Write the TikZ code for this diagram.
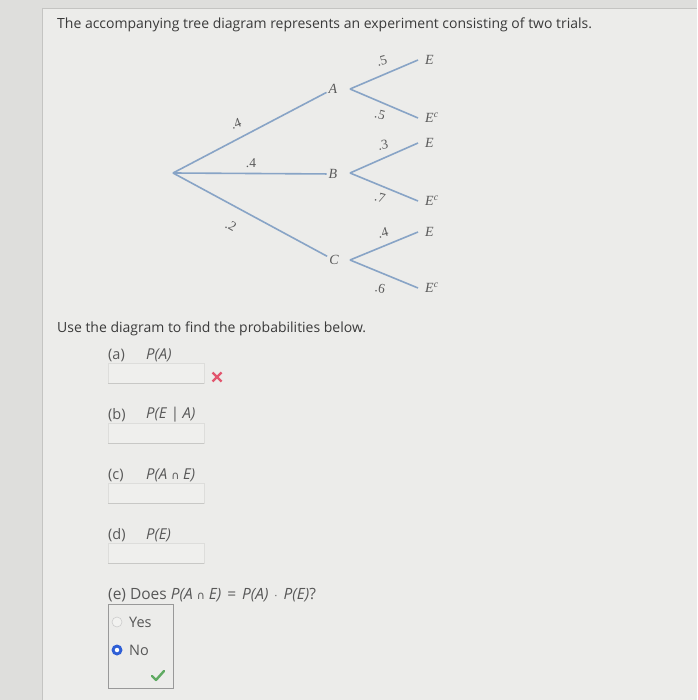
\documentclass[tikz,border=0pt]{standalone}
\usepackage{fontspec}
\usetikzlibrary{calc}
\setmainfont{Open Sans}
\newfontfamily\treefont{Liberation Serif}
\newfontfamily\symfont{DejaVu Sans}
\definecolor{bgc}{HTML}{ECECEA}
\definecolor{stripc}{HTML}{DEDEDC}
\definecolor{edgec}{HTML}{C4C4C2}
\definecolor{branchc}{HTML}{88A4C6}
\definecolor{txtc}{HTML}{3A3A3A}
\definecolor{treetxt}{HTML}{5A5A5A}
\definecolor{boxc}{HTML}{DDDDDB}
\definecolor{boxline}{HTML}{C8C8C6}
\definecolor{crossc}{HTML}{E2566E}
\definecolor{radioblue}{HTML}{2F5FD6}
\definecolor{checkc}{HTML}{5FAA62}
\tikzset{
  branch/.style={draw=branchc, line width=1.6pt},
  lvl/.style={font=\treefont\itshape\fontsize{14}{14}\selectfont, text=treetxt, inner sep=2pt},
  leaf/.style={font=\treefont\itshape\fontsize{14}{14}\selectfont, text=treetxt, anchor=west, inner xsep=7pt, inner ysep=1pt},
  prob/.style={font=\treefont\fontsize{13.5}{13.5}\selectfont, text=treetxt, inner sep=0pt},
  body/.style={font=\fontsize{14}{14}\selectfont, text=txtc, anchor=west, inner sep=0pt},
  part/.style={font=\fontsize{14.5}{14.5}\selectfont, text=txtc!85, anchor=west, inner sep=0pt},
  ital/.style={font=\itshape\fontsize{15}{15}\selectfont, text=txtc!85, anchor=west, inner sep=0pt},
  ansbox/.style={fill=bgc!85!white, draw=boxc, line width=0.6pt},
}
\newcommand{\capsym}{{\upshape\symfont\fontsize{11}{11}\selectfont ∩}}
\begin{document}
\begin{tikzpicture}[x=1pt,y=-1pt]
\useasboundingbox (0,0) rectangle (697,700);
% background
\fill[stripc] (0,0) rectangle (697,700);
\fill[bgc] (42,8) rectangle (697,700);
\draw[edgec, line width=0.8pt] (42,8) -- (42,700);
\draw[edgec, line width=0.8pt] (42,8) -- (697,8);

% title
\node[body] (title) at (57,25) {The accompanying tree diagram represents an experiment consisting of two trials.};

% tree
\coordinate (root) at (173,173);
\node[lvl] (A) at (333,89) {A};
\node[lvl] (B) at (333,174) {B};
\node[lvl] (C) at (334,260) {C};
\draw[branch] (root) -- (A);
\draw[branch] (root) -- (B);
\draw[branch] (root) -- (C);
\node[prob, rotate=20] (pA) at (236,124) {.4};
\node[prob] (pB) at (251,163) {.4};
\node[prob, rotate=-30] (pC) at (231,226) {.2};

\coordinate (fA) at (350,89);
\coordinate (fB) at (350,173);
\coordinate (fC) at (350,260);
\node[leaf] (AE) at (418,60) {E};
\node[leaf] (AEc) at (418,118) {E\textsuperscript{c}};
\node[leaf] (BE) at (418,143) {E};
\node[leaf] (BEc) at (418,201) {E\textsuperscript{c}};
\node[leaf] (CE) at (418,232) {E};
\node[leaf] (CEc) at (418,288) {E\textsuperscript{c}};
\draw[branch] (fA) -- (AE.west);
\draw[branch] (fA) -- (AEc.west);
\draw[branch] (fB) -- (BE.west);
\draw[branch] (fB) -- (BEc.west);
\draw[branch] (fC) -- (CE.west);
\draw[branch] (fC) -- (CEc.west);
\node[prob, rotate=15] (pAE) at (382,61) {.5};
\node[prob, rotate=-15] (pAEc) at (380,115) {.5};
\node[prob, rotate=10] (pBE) at (383,145) {.3};
\node[prob, rotate=-15] (pBEc) at (380,198) {.7};
\node[prob, rotate=15] (pCE) at (383,233) {.4};
\node[prob, rotate=-10] (pCEc) at (380,288) {.6};

% questions
\node[body] (use) at (57,329) {Use the diagram to find the probabilities below.};

\node[part] (la) at (108,355) {(a)};
\node[ital] (qa) at (146,355) {P(A)};
\draw[ansbox] (108,363) rectangle (204,383);
\draw[boxline, line width=0.8pt] (108,383) -- (204,383);
\coordinate (xa) at (217,377);
\draw[crossc, line width=2.4pt] ($(xa)+(-4.5,-4.5)$) -- ($(xa)+(4.5,4.5)$);
\draw[crossc, line width=2.4pt] ($(xa)+(-4.5,4.5)$) -- ($(xa)+(4.5,-4.5)$);

\node[part] (lb) at (108,415) {(b)};
\node[ital] (qb) at (146,415) {P(E | A)};
\draw[ansbox] (108,423) rectangle (204,443);
\draw[boxline, line width=0.8pt] (108,443) -- (204,443);

\node[part] (lc) at (108,475) {(c)};
\node[ital] (qc) at (146,475) {P(A \capsym\ E)};
\draw[ansbox] (108,483) rectangle (204,503);
\draw[boxline, line width=0.8pt] (108,503) -- (204,503);

\node[part] (ld) at (108,535) {(d)};
\node[ital] (qd) at (146,535) {P(E)};
\draw[ansbox] (108,543) rectangle (204,563);
\draw[boxline, line width=0.8pt] (108,563) -- (204,563);

\node[part, font=\fontsize{15.5}{15.5}\selectfont] (qe) at (108,595) {(e) Does \textit{P(A \capsym\ E)}\hspace{2pt} = \hspace{2pt}\textit{P(A)}\hspace{2pt} {\symfont\fontsize{10}{10}\selectfont ·}\hspace{2pt} \textit{P(E)}?};
\draw[draw=gray!80, line width=0.8pt] (108,604) rectangle (173,688);
\node[draw=gray!40, fill=bgc!70!white, circle, minimum size=10pt, inner sep=0pt, line width=0.6pt] (ry) at (117,622) {};
\node[part] (yes) at (129,622) {Yes};
\node[fill=radioblue, circle, minimum size=11pt, inner sep=0pt] (rn) at (117,650) {};
\node[fill=white, circle, minimum size=4.5pt, inner sep=0pt] (rndot) at (rn) {};
\node[part] (no) at (129,650) {No};
\coordinate (ck) at (158,676);
\draw[checkc, line width=2.4pt, line cap=round, line join=round] ($(ck)+(-6,0)$) -- ($(ck)+(-2,4)$) -- ($(ck)+(6,-5)$);
\end{tikzpicture}
\end{document}
